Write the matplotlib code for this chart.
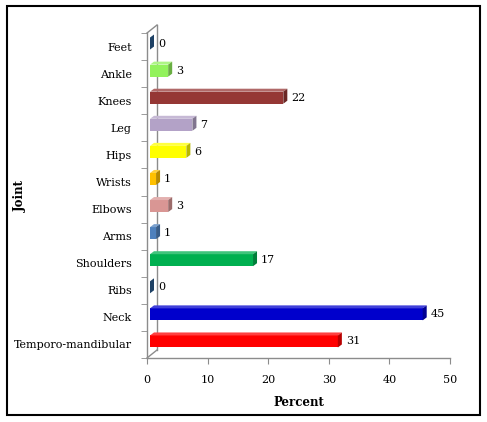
import numpy as np
import matplotlib.pyplot as plt
from matplotlib.patches import Polygon, Rectangle
import matplotlib.colors as mcolors

joints = ['Feet', 'Ankle', 'Knees', 'Leg', 'Hips', 'Wrists', 'Elbows',
          'Arms', 'Shoulders', 'Ribs', 'Neck', 'Temporo-mandibular']
percent = [0, 3, 22, 7, 6, 1, 3, 1, 17, 0, 45, 31]
colors = ['#2A5A8C', '#92F25C', '#953735', '#B3A2C7', '#FFFF00', '#FFC000',
          '#D99694', '#4F81BD', '#00B050', '#2A5A8C', '#0000CC', '#FF0000']
xticks = [0, 10, 20, 30, 40, 50]

plt.rcParams['font.family'] = ['DejaVu Serif']

W, H = 487, 422
fig = plt.figure(figsize=(W / 100, H / 100), dpi=100)

# axes box in pixels (front plane of the 3D chart)
x0, x1 = 147, 450
y_top, y_bot = 33, 358
ax = fig.add_axes([x0 / W, (H - y_bot) / H, (x1 - x0) / W, (y_bot - y_top) / H])
ax.set_xlim(0, 50)
ax.set_ylim(len(joints) - 0.5, -0.5)
ax.set_facecolor('none')

# pixel -> data conversion
px_x = 50 / (x1 - x0)
px_y = len(joints) / (y_bot - y_top)

shift_x, shift_y = 3 * px_x, 3 * px_y      # bars sit a bit behind the front plane
depth_x, depth_y = 4 * px_x, 3 * px_y      # visible depth of each bar
bh = 12 * px_y                              # front face height

for i, (v, c) in enumerate(zip(percent, colors)):
    base = np.array(mcolors.to_rgb(c))
    dark = base * 0.72
    light = base + (1 - base) * 0.25
    left = shift_x
    right = shift_x + v
    yc = i - shift_y
    top = yc - bh / 2
    bot = yc + bh / 2
    if v > 0:
        # front face
        ax.add_patch(Rectangle((left, top), v, bh, facecolor=c, edgecolor='none', zorder=3))
        # top face
        ax.add_patch(Polygon([(left, top), (right, top), (right + depth_x, top - depth_y),
                              (left + depth_x, top - depth_y)],
                             facecolor=light, edgecolor='none', zorder=3))
    # side face
    ax.add_patch(Polygon([(right, top), (right + depth_x, top - depth_y),
                          (right + depth_x, bot - depth_y), (right, bot)],
                         facecolor=dark, edgecolor='none', zorder=3))
    ax.text(right + depth_x + 4 * px_x, yc, str(v), va='center', ha='left',
            fontsize=8, zorder=4)

# axes styling
for s in ['top', 'right']:
    ax.spines[s].set_visible(False)
for s in ['left', 'bottom']:
    ax.spines[s].set_color('#8C8C8C')
    ax.spines[s].set_linewidth(1.0)

ax.set_xticks(xticks)
ax.set_xticklabels([str(t) for t in xticks], fontsize=8)
ax.tick_params(axis='x', direction='out', length=4, color='#8C8C8C', pad=8)

ax.set_yticks(range(len(joints)))
ax.set_yticklabels(joints, fontsize=8)
ax.set_yticks(np.arange(-0.5, len(joints), 1), minor=True)
ax.tick_params(axis='y', which='major', length=0, pad=11)
ax.tick_params(axis='y', which='minor', direction='out', length=4, color='#8C8C8C')

# back wall edge of the 3D frame
wall = dict(color='#8C8C8C', lw=1.0, clip_on=False, zorder=1)
ax.plot([10 * px_x, 10 * px_x], [-0.5 - 8 * px_y, len(joints) - 0.5 - 8 * px_y], **wall)
ax.plot([0, 10 * px_x], [-0.5, -0.5 - 8 * px_y], **wall)
ax.plot([0, 10 * px_x], [len(joints) - 0.5, len(joints) - 0.5 - 8 * px_y], **wall)

ax.set_xlabel('Percent', fontsize=8.5, fontweight='bold', labelpad=8)
ax.set_ylabel('Joint', fontsize=8.5, fontweight='bold', labelpad=0)
ax.yaxis.set_label_coords(-0.395, 0.5)

# outer border
fig.patches.append(Rectangle((7 / W, (H - 415) / H), 473 / W, 409 / H,
                             transform=fig.transFigure, fill=False,
                             edgecolor='black', lw=1.5))

plt.savefig('out.png', dpi=100)
